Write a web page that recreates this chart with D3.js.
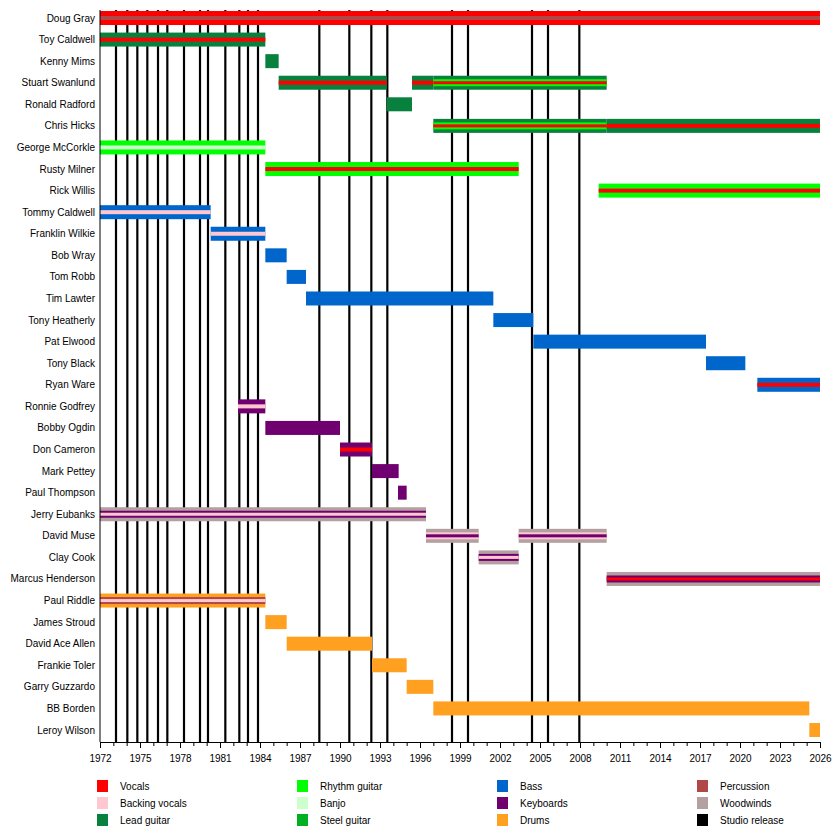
<!DOCTYPE html>
<html lang="en">
<head>
<meta charset="UTF-8">
<title>Timeline</title>
<script src="https://d3js.org/d3.v7.min.js"></script>
<style>
  body { margin: 0; background: #fff; }
  text { font-family: "Liberation Sans", Arial, sans-serif; font-size: 10px; fill: #000; }
</style>
</head>
<body>
<script>
const members = ["Doug Gray","Toy Caldwell","Kenny Mims","Stuart Swanlund","Ronald Radford","Chris Hicks",
  "George McCorkle","Rusty Milner","Rick Willis","Tommy Caldwell","Franklin Wilkie","Bob Wray","Tom Robb",
  "Tim Lawter","Tony Heatherly","Pat Elwood","Tony Black","Ryan Ware","Ronnie Godfrey","Bobby Ogdin",
  "Don Cameron","Mark Pettey","Paul Thompson","Jerry Eubanks","David Muse","Clay Cook","Marcus Henderson",
  "Paul Riddle","James Stroud","David Ace Allen","Frankie Toler","Garry Guzzardo","BB Borden","Leroy Wilson"];

const roleNames = ["Vocals","Backing vocals","Lead guitar","Rhythm guitar","Banjo","Steel guitar",
  "Bass","Keyboards","Drums","Percussion","Woodwinds","Studio release"];
const roleColors = ["#ff0000","#ffc8d0","#08803e","#00ff00","#ccffcc","#00b020",
  "#0066cc","#700070","#ffa020","#b04848","#b4a0a0","#000000"];

// [member, start, end, roles from outer to inner]
const spans = [
  ["Doug Gray",1972,2026,["Vocals","Percussion"]],
  ["Toy Caldwell",1972,1984.4,["Lead guitar","Vocals"]],
  ["Kenny Mims",1984.4,1985.4,["Lead guitar"]],
  ["Stuart Swanlund",1985.4,1993.5,["Lead guitar","Vocals"]],
  ["Stuart Swanlund",1995.4,1997,["Lead guitar","Vocals"]],
  ["Stuart Swanlund",1997,2010,["Lead guitar","Rhythm guitar","Vocals"]],
  ["Ronald Radford",1993.5,1995.4,["Lead guitar"]],
  ["Chris Hicks",1997,2010,["Lead guitar","Rhythm guitar","Vocals"]],
  ["Chris Hicks",2010,2026,["Lead guitar","Vocals"]],
  ["George McCorkle",1972,1984.4,["Rhythm guitar","Banjo"]],
  ["Rusty Milner",1984.4,2003.4,["Rhythm guitar","Vocals"]],
  ["Rick Willis",2009.4,2026,["Rhythm guitar","Vocals"]],
  ["Tommy Caldwell",1972,1980.3,["Bass","Backing vocals"]],
  ["Franklin Wilkie",1980.3,1984.4,["Bass","Backing vocals"]],
  ["Bob Wray",1984.4,1986,["Bass"]],
  ["Tom Robb",1986,1987.45,["Bass"]],
  ["Tim Lawter",1987.45,2001.5,["Bass"]],
  ["Tony Heatherly",2001.5,2004.5,["Bass"]],
  ["Pat Elwood",2004.5,2017.45,["Bass"]],
  ["Tony Black",2017.45,2020.4,["Bass"]],
  ["Ryan Ware",2021.3,2026,["Bass","Vocals"]],
  ["Ronnie Godfrey",1982.35,1984.4,["Keyboards","Backing vocals"]],
  ["Bobby Ogdin",1984.4,1990,["Keyboards"]],
  ["Don Cameron",1990,1992.4,["Keyboards","Vocals"]],
  ["Mark Pettey",1992.4,1994.4,["Keyboards"]],
  ["Paul Thompson",1994.35,1995,["Keyboards"]],
  ["Jerry Eubanks",1972,1996.45,["Woodwinds","Keyboards","Backing vocals"]],
  ["David Muse",1996.45,2000.4,["Woodwinds","Backing vocals","Keyboards"]],
  ["David Muse",2003.4,2010,["Woodwinds","Backing vocals","Keyboards"]],
  ["Clay Cook",2000.4,2003.4,["Woodwinds","Keyboards","Backing vocals"]],
  ["Marcus Henderson",2010,2026,["Woodwinds","Keyboards","Vocals"]],
  ["Paul Riddle",1972,1984.4,["Drums","Percussion","Backing vocals"]],
  ["James Stroud",1984.4,1986,["Drums"]],
  ["David Ace Allen",1986,1992.4,["Drums"]],
  ["Frankie Toler",1992.4,1995,["Drums"]],
  ["Garry Guzzardo",1995,1997,["Drums"]],
  ["BB Borden",1997,2025.2,["Drums"]],
  ["Leroy Wilson",2025.2,2026,["Drums"]]
];

const releases = [1973.2,1974.05,1974.8,1975.55,1976.35,1977.05,1978.3,1979.5,1980.1,1981.4,1982.45,
  1983.1,1983.85,1988.45,1990.7,1992.35,1993.55,1998.4,1999.6,2004.4,2005.6,2007.95];

const tickYears = d3.range(1972, 2027, 3);

const color = d3.scaleOrdinal().domain(roleNames).range(roleColors);
const x = d3.scaleLinear().domain([1972, 2026]).range([100, 820]);
const y = d3.scalePoint().domain(members).range([18, 730]);
const barH = 14;
const layerH = [14, 7, 3];

const svg = d3.select("body").append("svg").attr("width", 840).attr("height", 826);

svg.selectAll("line.rel")
  .data(releases).enter().append("line")
  .attr("x1", d => x(d)).attr("x2", d => x(d))
  .attr("y1", 10).attr("y2", 742)
  .attr("stroke", "#000").attr("stroke-width", 2.2);

spans.forEach(s => {
  s[3].forEach((role, i) => {
    const h = s[3].length === 2 && i === 1 ? 4 : layerH[i];
    svg.append("rect")
      .attr("x", x(s[1])).attr("width", x(s[2]) - x(s[1]))
      .attr("y", y(s[0]) - h / 2).attr("height", h)
      .attr("fill", color(role));
  });
});

svg.selectAll("text.name")
  .data(members).enter().append("text")
  .attr("x", 95).attr("y", d => y(d)).attr("dy", "0.35em")
  .attr("text-anchor", "end").text(d => d);

svg.append("line").attr("x1", 100).attr("x2", 100).attr("y1", 10).attr("y2", 742)
  .attr("stroke", "#000").attr("stroke-width", 1);

const axisG = svg.append("g").attr("transform", "translate(0,742)");
axisG.call(d3.axisBottom(x).tickValues(d3.range(1972, 2027, 1)).tickSize(4).tickFormat(""));
axisG.append("g").call(d3.axisBottom(x).tickValues(tickYears).tickSize(6).tickFormat(d3.format("d")));
axisG.selectAll("path.domain").attr("stroke", "#000");
axisG.selectAll("text").style("font-size", "10px").attr("dy", "1.1em");

const legend = svg.selectAll("g.leg").data(roleNames).enter().append("g")
  .attr("transform", (d, i) => `translate(${97 + Math.floor(i / 3) * 200},${780 + (i % 3) * 17})`);
legend.append("rect").attr("width", 11).attr("height", 12).attr("fill", d => color(d));
legend.append("text").attr("x", 23).attr("y", 6).attr("dy", "0.35em").text(d => d);
</script>
</body>
</html>
